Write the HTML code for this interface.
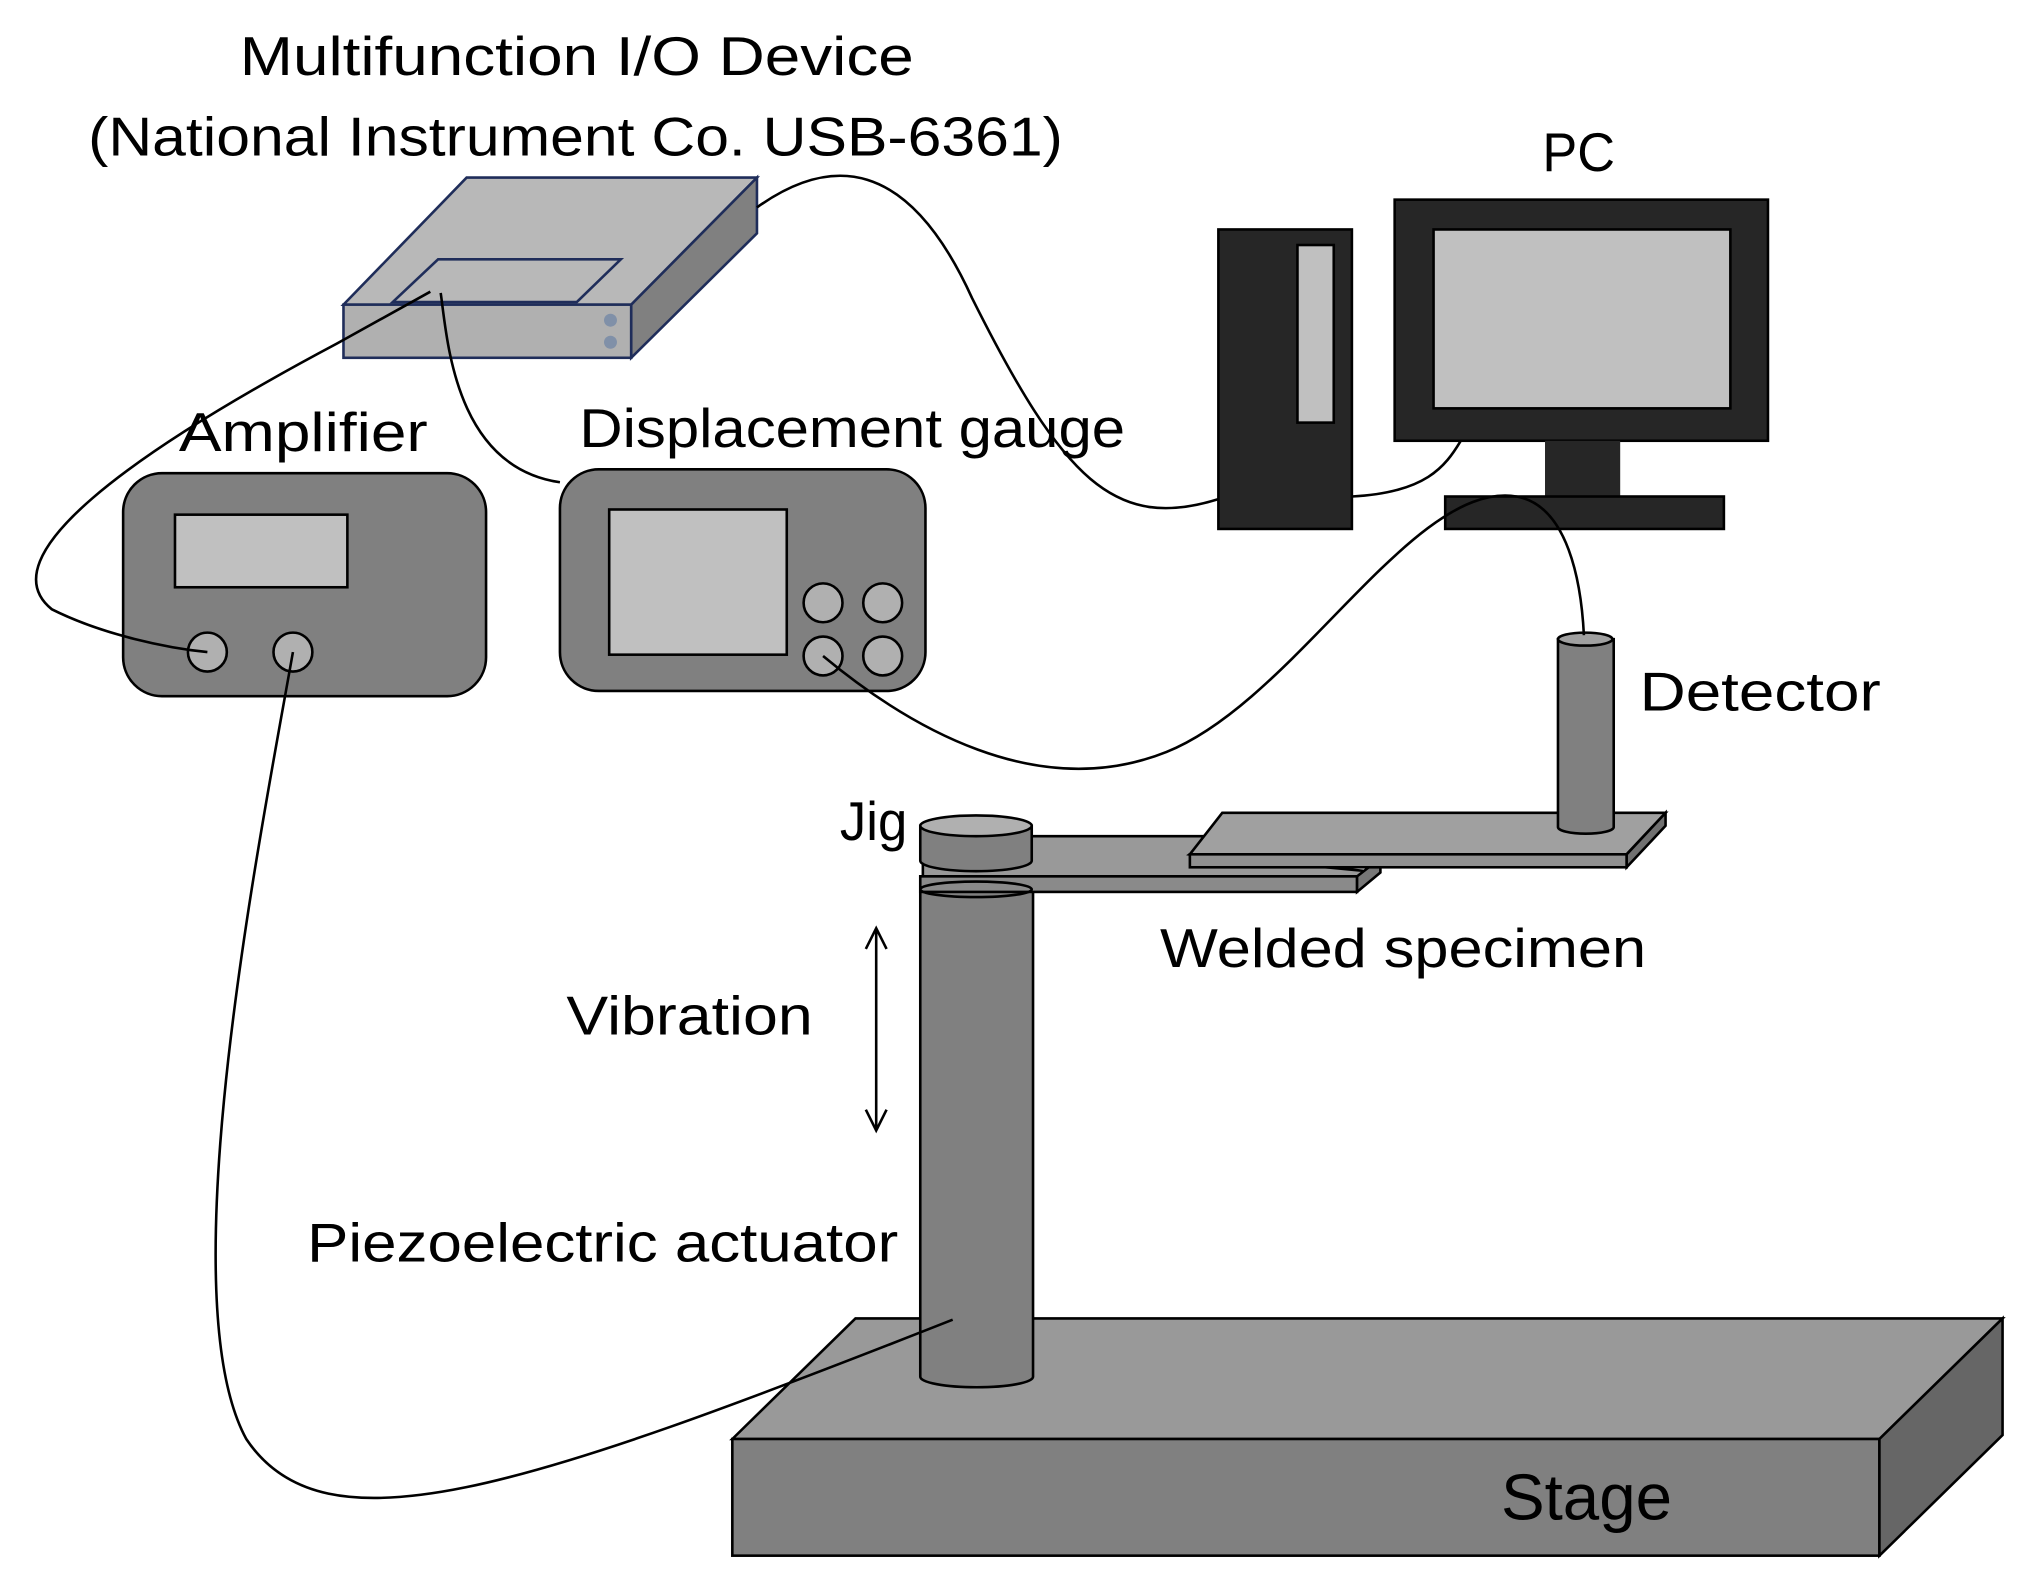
<!DOCTYPE html>
<html><head><style>html,body{margin:0;padding:0;background:#fff}svg{display:block}</style></head><body>
<svg width="2022" height="1579" viewBox="0 0 1560 1218" preserveAspectRatio="none" xmlns="http://www.w3.org/2000/svg" font-family="Liberation Sans, sans-serif" font-size="42" fill="#000">
<rect width="1560" height="1218" fill="#fff"/>
<!-- Stage -->
<polygon points="565,1110 660,1017 1545,1017 1450,1110" fill="#999" stroke="#000" stroke-width="2"/>
<rect x="565" y="1110" width="885" height="90" fill="#808080" stroke="#000" stroke-width="2"/>
<polygon points="1450,1110 1545,1017 1545,1107 1450,1200" fill="#666" stroke="#000" stroke-width="2"/>
<text x="1158" y="1172" font-size="50" textLength="132" lengthAdjust="spacingAndGlyphs">Stage</text>
<!-- Column -->
<path d="M710,676 L710,1062 A43,8 0 0 0 797,1062 L797,676 Z" fill="#808080" stroke="#000" stroke-width="2"/>
<!-- arm -->
<polygon points="712,645 940,645 918,659 1065,673 1047,676 712,676" fill="#999" stroke="#000" stroke-width="2"/>
<rect x="710" y="676" width="337" height="12" fill="#8a8a8a" stroke="#000" stroke-width="2"/>
<polygon points="1047,676 1065,662 1065,673 1047,688" fill="#777" stroke="#000" stroke-width="2"/>
<ellipse cx="753" cy="686" rx="43" ry="6" fill="none" stroke="#000" stroke-width="2"/>
<!-- jig disk -->
<path d="M710,637 L710,664 A43,8 0 0 0 796,664 L796,637 Z" fill="#808080" stroke="#000" stroke-width="2"/>
<ellipse cx="753" cy="637" rx="43" ry="8" fill="#b0b0b0" stroke="#000" stroke-width="2"/>
<text x="648" y="648" textLength="52" lengthAdjust="spacingAndGlyphs">Jig</text>
<!-- specimen -->
<polygon points="918,659 943,627 1285,627 1255,659" fill="#a0a0a0" stroke="#000" stroke-width="2"/>
<rect x="918" y="659" width="337" height="10" fill="#909090" stroke="#000" stroke-width="2"/>
<polygon points="1255,659 1285,627 1285,637 1255,669" fill="#707070" stroke="#000" stroke-width="2"/>
<!-- detector -->
<path d="M1202,493 L1202,638 A21,5 0 0 0 1245,638 L1245,493 Z" fill="#808080" stroke="#000" stroke-width="2"/>
<ellipse cx="1223" cy="493" rx="21" ry="5" fill="#a0a0a0" stroke="#000" stroke-width="2"/>
<text x="1265" y="548" textLength="186" lengthAdjust="spacingAndGlyphs">Detector</text>
<text x="895" y="746" textLength="375" lengthAdjust="spacingAndGlyphs">Welded specimen</text>
<text x="437" y="798" textLength="190" lengthAdjust="spacingAndGlyphs">Vibration</text>
<text x="237" y="973" textLength="456" lengthAdjust="spacingAndGlyphs">Piezoelectric actuator</text>
<!-- arrow -->
<line x1="676" y1="718" x2="676" y2="870" stroke="#000" stroke-width="2"/>
<polyline points="668,732 676,716 684,732" fill="none" stroke="#000" stroke-width="2"/>
<polyline points="668,856 676,872 684,856" fill="none" stroke="#000" stroke-width="2"/>
<!-- PC -->
<rect x="940" y="177" width="103" height="231" fill="#262626" stroke="#000" stroke-width="2"/>
<rect x="1001" y="189" width="28" height="137" fill="#c0c0c0" stroke="#000" stroke-width="2"/>
<rect x="1076" y="154" width="288" height="186" fill="#262626" stroke="#000" stroke-width="2"/>
<rect x="1106" y="177" width="229" height="138" fill="#c0c0c0" stroke="#000" stroke-width="2"/>
<rect x="1192" y="340" width="58" height="43" fill="#262626"/>
<rect x="1115" y="383" width="215" height="25" fill="#262626" stroke="#000" stroke-width="2"/>
<text x="1190" y="132" textLength="56" lengthAdjust="spacingAndGlyphs">PC</text>
<!-- NI device -->
<polygon points="265,235 360,137 584,137 487,235" fill="#b8b8b8" stroke="#1f2d5a" stroke-width="2"/>
<rect x="265" y="235" width="222" height="41" fill="#b0b0b0" stroke="#1f2d5a" stroke-width="2"/>
<polygon points="487,235 584,137 584,180 487,276" fill="#808080" stroke="#1f2d5a" stroke-width="2"/>
<polygon points="303,233 338,200 479,200 445,233" fill="#b8b8b8" stroke="#1f2d5a" stroke-width="2"/>
<circle cx="471" cy="247" r="5" fill="#8090a8"/>
<circle cx="471" cy="264" r="5" fill="#8090a8"/>
<text x="185" y="58" textLength="520" lengthAdjust="spacingAndGlyphs">Multifunction I/O Device</text>
<text x="68" y="120" textLength="752" lengthAdjust="spacingAndGlyphs">(National Instrument Co. USB-6361)</text>
<!-- Amplifier -->
<rect x="95" y="365" width="280" height="172" rx="30" fill="#808080" stroke="#000" stroke-width="2"/>
<rect x="135" y="397" width="133" height="56" fill="#c0c0c0" stroke="#000" stroke-width="2"/>
<circle cx="160" cy="503" r="15" fill="#b0b0b0" stroke="#000" stroke-width="2"/>
<circle cx="226" cy="503" r="15" fill="#b0b0b0" stroke="#000" stroke-width="2"/>
<text x="138" y="348" textLength="192" lengthAdjust="spacingAndGlyphs">Amplifier</text>
<!-- Displacement gauge -->
<rect x="432" y="362" width="282" height="171" rx="30" fill="#808080" stroke="#000" stroke-width="2"/>
<rect x="470" y="393" width="137" height="112" fill="#c0c0c0" stroke="#000" stroke-width="2"/>
<circle cx="635" cy="465" r="15" fill="#b0b0b0" stroke="#000" stroke-width="2"/>
<circle cx="681" cy="465" r="15" fill="#b0b0b0" stroke="#000" stroke-width="2"/>
<circle cx="635" cy="506" r="15" fill="#b0b0b0" stroke="#000" stroke-width="2"/>
<circle cx="681" cy="506" r="15" fill="#b0b0b0" stroke="#000" stroke-width="2"/>
<text x="447" y="345" textLength="421" lengthAdjust="spacingAndGlyphs">Displacement gauge</text>
<!-- wires -->
<g fill="none" stroke="#000" stroke-width="2">
<path d="M584,160 C640,120 700,120 750,230 C820,370 860,410 940,385"/>
<path d="M1043,383 C1100,380 1115,360 1127,340"/>
<path d="M332,225 L260,265 C100,350 -10,430 40,470 C80,490 130,500 160,503"/>
<path d="M340,226 C345,260 350,360 432,372"/>
<path d="M226,503 C200,650 130,1000 190,1110 C250,1200 400,1150 735,1018"/>
<path d="M635,506 C700,560 800,620 900,580 C1000,540 1090,370 1170,383 C1210,390 1220,450 1222,490"/>
</g>
</svg>
</body></html>
